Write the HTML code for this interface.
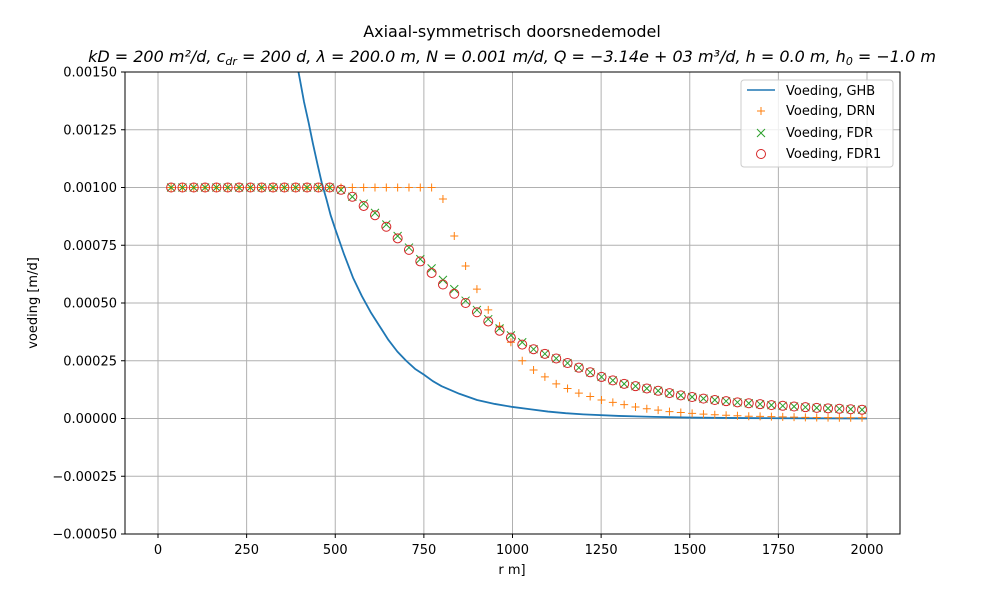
<!DOCTYPE html>
<html><head><meta charset="utf-8"><style>
body{margin:0;background:#fff}
svg text{font-family:"DejaVu Sans","Liberation Sans",sans-serif;fill:#000}
</style></head><body>
<svg id="chart" width="1000" height="600" xmlns="http://www.w3.org/2000/svg">
<rect width="1000" height="600" fill="#fff"/>
<defs><clipPath id="clip"><rect x="125" y="72" width="775" height="462"/></clipPath></defs>
<g id="grid"></g>
<g id="axes"></g>
<g id="series" clip-path="url(#clip)"></g>
<rect x="125" y="72" width="775" height="462" fill="none" stroke="#000" stroke-width="1"/>
<text x="512" y="37" text-anchor="middle" font-size="16">Axiaal-symmetrisch doorsnedemodel</text>
<text x="512" y="62" text-anchor="middle" font-size="16" font-style="italic">kD = 200 m²/d, c<tspan font-size="11" dy="3">dr</tspan><tspan dy="-3"> = 200 d, λ = 200.0 m, N = 0.001 m/d, Q = −3.14e + 03 m³/d, h = 0.0 m, h</tspan><tspan font-size="11" dy="3">0</tspan><tspan dy="-3"> = −1.0 m</tspan></text>
<text x="0" y="0" transform="translate(37,303) rotate(-90)" text-anchor="middle" font-size="13">voeding [m/d]</text>
<text x="512" y="574" text-anchor="middle" font-size="13">r m]</text>
<g>
<rect x="741" y="80" width="152" height="87" rx="3" fill="#fff" fill-opacity="0.8" stroke="#ccc"/>
<line x1="747" y1="90" x2="775" y2="90" stroke="#1f77b4" stroke-width="1.5"/>
<text x="786" y="95" font-size="13">Voeding, GHB</text>
<path d="M757 111h8M761 107v8" stroke="#ff7f0e" stroke-width="1"/>
<text x="786" y="115" font-size="13">Voeding, DRN</text>
<path d="M757 129l8 8M765 129l-8 8" stroke="#2ca02c" stroke-width="1"/>
<text x="786" y="137" font-size="13">Voeding, FDR</text>
<circle cx="761" cy="154" r="4.5" fill="none" stroke="#d62728"/>
<text x="786" y="158" font-size="13">Voeding, FDR1</text>
</g>
</svg>
<script>
const xTicks=[0,250,500,750,1000,1250,1500,1750,2000];
const yTicks=[-0.0005,-0.00025,0,0.00025,0.0005,0.00075,0.001,0.00125,0.0015];
const yTickLabels=["−0.00050","−0.00025","0.00000","0.00025","0.00050","0.00075","0.00100","0.00125","0.00150"];
const rStart=37, rStep=31.95, nPts=62;
const ghbR=[370,380,390,400,412,425,437,450,462,475,487,500,525,550,575,600,625,650,675,700,725,750,775,800,850,900,950,1000,1050,1100,1150,1200,1300,1400,1500,1600,1750,2000];
const ghbV=[0.00175,0.00163,0.00155,0.00147,0.00137,0.00128,0.00119,0.00110,0.00102,0.00095,0.00088,0.00082,0.00071,0.00061,0.00053,0.00046,0.00040,0.00034,0.00029,0.00025,0.000215,0.00019,0.000162,0.00014,0.000107,0.00008,0.000063,0.00005,0.00004,0.00003,0.000023,0.000018,0.000011,0.000007,0.000004,0.0000025,0.000001,0.0000003];
const fdr1Tail=[0.00099,0.00096,0.00092,0.00088,0.00083,0.00078,0.00073,0.00068,0.00063,0.00058,0.00054,0.00050,0.00046,0.00042,0.00038,0.00035,0.00032,0.00030,0.00028,0.00026,0.00024,0.00022,0.00020,0.00018,0.000165,0.00015,0.00014,0.00013,0.00012,0.00011,0.0001,0.000093,0.000086,0.00008,0.000075,0.00007,0.000066,0.000062,0.000058,0.000055,0.000052,0.000049,0.000046,0.000044,0.000042,0.000040,0.000038];
const fdrTail=[0.00099,0.00096,0.00093,0.00089,0.00084,0.00079,0.00074,0.00069,0.00065,0.00060,0.00056,0.00051,0.00047,0.00043,0.00039,0.00036,0.00033,0.00030,0.00028,0.00026,0.00024,0.00022,0.00020,0.00018,0.000165,0.00015,0.00014,0.00013,0.00012,0.00011,0.0001,0.000093,0.000086,0.00008,0.000075,0.00007,0.000066,0.000062,0.000058,0.000055,0.000052,0.000049,0.000046,0.000044,0.000042,0.000040,0.000038];
const drnTail=[0.00095,0.00079,0.00066,0.00056,0.00047,0.00040,0.00033,0.00025,0.00021,0.00018,0.00015,0.00013,0.00011,0.000095,0.00008,0.00007,0.00006,0.00005,0.000042,0.000036,0.00003,0.000026,0.000022,0.000019,0.000016,0.000014,0.000012,0.00001,0.000009,0.000008,0.000007,0.000006,0.000005,0.0000045,0.000004,0.0000035,0.000003,0.000003];
const fdr1Head=15, drnHead=24;
const X=r=>158+r*(867-158)/2000;
const Y=v=>418.5-v*231000;
const NS='http://www.w3.org/2000/svg';
function mk(p,t,a){const e=document.createElementNS(NS,t);for(const k in a)e.setAttribute(k,a[k]);p.appendChild(e);return e;}
const grid=document.getElementById('grid'),axes=document.getElementById('axes'),ser=document.getElementById('series');
xTicks.forEach(t=>{const x=X(t);
 const g=mk(grid,'line',{x1:x,x2:x,y1:72,y2:534,stroke:'#b0b0b0','stroke-width':1});
 
 
 mk(axes,'line',{x1:x,x2:x,y1:534,y2:538,stroke:'#000'});
 const l=mk(axes,'text',{x:x,y:554,'text-anchor':'middle','font-size':13});l.textContent=t;
 
 });
yTicks.forEach((t,i)=>{const y=Y(t);
 const g=mk(grid,'line',{x1:125,x2:900,y1:y,y2:y,stroke:'#b0b0b0','stroke-width':1});
 
 
 mk(axes,'line',{x1:121,x2:125,y1:y,y2:y,stroke:'#000'});
 const l=mk(axes,'text',{x:117,y:y+4.5,'text-anchor':'end','font-size':13});l.textContent=yTickLabels[i];
 
 });
const gl=mk(ser,'polyline',{points:ghbR.map((r,i)=>X(r)+','+Y(ghbV[i])).join(' '),fill:'none',stroke:'#1f77b4','stroke-width':1.8,'stroke-linejoin':'round'});


function val(head,tail,i){return i<head?0.001:tail[Math.min(i-head,tail.length-1)];}
for(let i=0;i<nPts;i++){const x=X(rStart+i*rStep);
 let y=Y(val(drnHead,drnTail,i));
 const p=mk(ser,'path',{d:`M${x-4} ${y}h8M${x} ${y-4}v8`,stroke:'#ff7f0e','stroke-width':1});
 
 
 y=Y(val(fdr1Head,fdrTail,i));
 const q=mk(ser,'path',{d:`M${x-4} ${y-4}l8 8M${x+4} ${y-4}l-8 8`,stroke:'#2ca02c','stroke-width':1});
 
 
 y=Y(val(fdr1Head,fdr1Tail,i));
 const c=mk(ser,'circle',{cx:x,cy:y,r:4.5,fill:'none',stroke:'#d62728','stroke-width':1});
 
 }
</script>
</body></html>
